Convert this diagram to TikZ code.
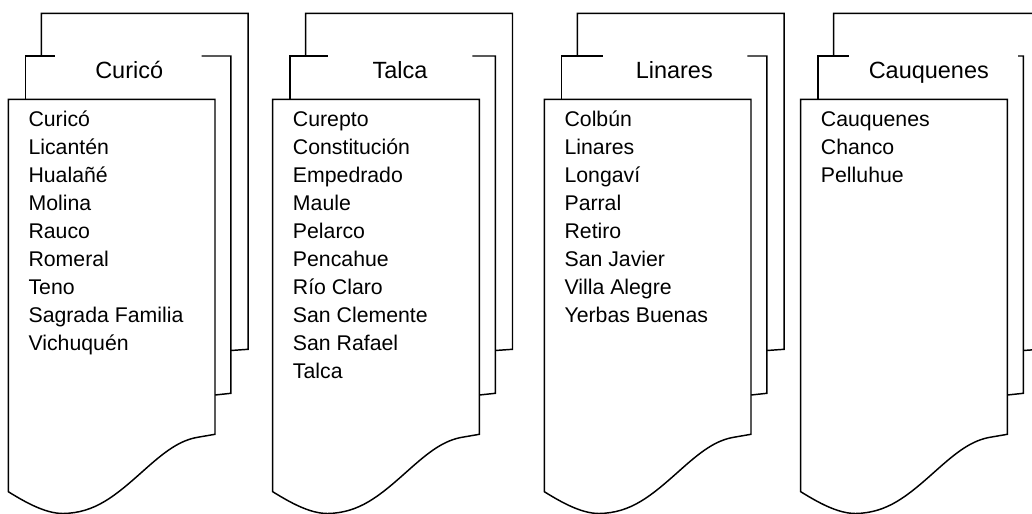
\documentclass[tikz,border=0pt]{standalone}
\usepackage{fontspec}
\setmainfont{Liberation Sans}
\tikzset{
  page/.style={line width=1.1pt, line join=miter, draw=black},
  ttl/.style={font=\fontsize{17.6}{21}\selectfont, inner sep=0pt, anchor=base},
  item/.style={font=\fontsize{15.95}{20}\selectfont, inner sep=0pt, anchor=base west}
}
% #1 name, #2 front left x, #3 gap left, #4 gap right, #5 title x, #6 title, #7 list
\newcommand\mdoc[7]{%
  \begin{scope}
    \pgfmathsetmacro\mdFL{#2}
    \pgfmathsetmacro\mdFR{#2+206.7}
    \pgfmathsetmacro\mdML{#2+17.3}
    \pgfmathsetmacro\mdMR{#2+17.3+205.3}
    \pgfmathsetmacro\mdBL{#2+33}
    \pgfmathsetmacro\mdBR{#2+33+206.8}
    \draw[page] (\mdBL,56) -- (\mdBL,13.3) -- (\mdBR,13.3) -- (\mdBR,349.3) -- (\mdMR,350.5);
    \draw[page] (\mdML,99.3) -- (\mdML,56) -- (#3,56);
    \draw[page] (#4,56) -- (\mdMR,56) -- (\mdMR,393.3) -- (\mdFR,395);
    \draw[page, fill=white] (\mdFL,99.3) -- (\mdFR,99.3) -- (\mdFR,434.3)
      -- ({\mdFR-15.7},437)
      .. controls ({\mdFR-35.7},440) and ({\mdFR-50.7},452) .. ({\mdFL+133.7},472)
      .. controls ({\mdFL+106.7},496) and ({\mdFL+86.7},513) .. ({\mdFL+54.7},513.5)
      .. controls ({\mdFL+36.7},513.5) and ({\mdFL+16.7},502) .. (\mdFL,491.7) -- cycle;
    \node[ttl] (#1-title) at (#5,78.3) {#6};
    \foreach \t [count=\i] in {#7} {
      \node[item] (#1-\i) at ({\mdFL+20},{126.4+(\i-1)*28.05}) {\t};
    }
  \end{scope}}
\begin{document}
\begin{tikzpicture}[x=0.75pt, y=-0.75pt]
  \useasboundingbox (0,0) rectangle (1032,514);
  \clip (0,0) rectangle (1032,514);
  \fill[white] (0,0) rectangle (1032,514);
  \mdoc{cu}{8.3}{55}{201.7}{129.2}{Curicó}{Curicó,Licantén,Hualañé,Molina,Rauco,Romeral,Teno,Sagrada Familia,Vichuquén}
  \mdoc{ta}{272.7}{328.3}{472.3}{400}{Talca}{Curepto,Constitución,Empedrado,Maule,Pelarco,Pencahue,Río Claro,San Clemente,San Rafael,Talca}
  \mdoc{li}{544.3}{602.7}{747.3}{674.3}{Linares}{Colbún,Linares,Longaví,Parral,Retiro,San Javier,Villa Alegre,Yerbas Buenas}
  \mdoc{ca}{800.7}{849}{1018}{928.8}{Cauquenes}{Cauquenes,Chanco,Pelluhue}
\end{tikzpicture}
\end{document}
